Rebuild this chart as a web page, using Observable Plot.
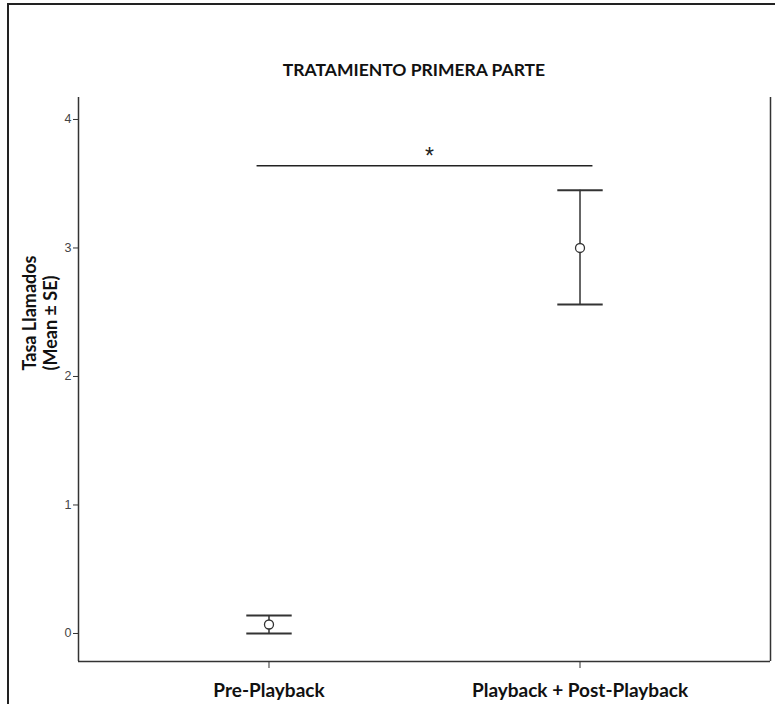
<!DOCTYPE html>
<html>
<head>
<meta charset="utf-8">
<script src="https://cdn.jsdelivr.net/npm/d3@7"></script>
<script src="https://cdn.jsdelivr.net/npm/@observablehq/plot@0.6"></script>
<style>
  html, body { margin: 0; padding: 0; background: #fff; }
  #page { position: relative; width: 775px; height: 704px; overflow: hidden; }
  #border { position: absolute; left: 7px; top: 3px; width: 800px; height: 800px;
            border-left: 2px solid #222; border-top: 2px solid #222; }
  #title { position: absolute; left: 0; top: 59px; width: 828px; text-align: center;
           font-family: Lato, sans-serif; font-weight: bold; font-size: 17.5px; color: #111; }
  #chart { position: absolute; left: 0; top: 92px; }
</style>
</head>
<body>
<div id="page">
  <div id="border"></div>
  <div id="title">TRATAMIENTO PRIMERA PARTE</div>
  <div id="chart"></div>
</div>
<script>
// Data
const categories = ["Pre-Playback", "Playback + Post-Playback"];
const means = [0.07, 3.0];
const lower = [0.0, 2.56];
const upper = [0.14, 3.45];
const yTicks = [0, 1, 2, 3, 4];
const sigLevel = [3.64];
const sigFrom = [-0.04];
const sigTo = [1.04];
const sigLabel = ["*"];
const yLabel = "Tasa Llamados\n(Mean ± SE)";

const rows = categories.map((c, i) => ({i, c, mean: means[i], lo: lower[i], hi: upper[i]}));
const xDom = [-0.6125, 1.6125];
const yDom = [-0.218, 4.171];
const cap = 0.073;

const caps = rows.flatMap(r => [{i: r.i, v: r.lo}, {i: r.i, v: r.hi}]);

const plot = Plot.plot({
  width: 775,
  height: 612,
  marginLeft: 78,
  marginRight: 5,
  marginTop: 5,
  marginBottom: 43,
  style: {fontFamily: "Lato, sans-serif", background: "transparent"},
  x: {domain: xDom, axis: null},
  y: {domain: yDom, axis: null},
  marks: [
    // frame lines (left, bottom, right)
    Plot.ruleX([xDom[0], xDom[1]], {y1: yDom[0], y2: yDom[1], stroke: "#333", strokeWidth: 1.5}),
    Plot.ruleY([yDom[0]], {x1: xDom[0], x2: xDom[1], stroke: "#333", strokeWidth: 1.5}),
    // y axis ticks & labels
    Plot.axisY({ticks: yTicks, tickSize: 5, tickFormat: d3.format("d"), tickPadding: 2,
      fontFamily: "Liberation Sans, Arial, sans-serif", fontSize: 12.5, color: "#444", stroke: "#333", label: null}),
    // x axis ticks & labels
    Plot.axisX({ticks: categories.map((_, i) => i), tickSize: 7, tickFormat: i => categories[i],
      tickPadding: 15, fontSize: 19, fontWeight: "bold", color: "#111", stroke: "#333", label: null}),
    // error bars
    Plot.ruleX(rows, {x: "i", y1: "lo", y2: "hi", stroke: "#333", strokeWidth: 1.5}),
    Plot.link(caps, {x1: d => d.i - cap, x2: d => d.i + cap, y1: "v", y2: "v", stroke: "#333", strokeWidth: 2}),
    Plot.dot(rows, {x: "i", y: "mean", r: 4.5, stroke: "#333", strokeWidth: 1.3, fill: "white"}),
    // significance bracket
    Plot.link(sigLevel, {x1: () => sigFrom[0], x2: () => sigTo[0], y1: d => d, y2: d => d, stroke: "#222", strokeWidth: 1.5}),
    Plot.text(sigLabel, {x: () => (sigFrom[0] + sigTo[0]) / 2, y: () => sigLevel[0], text: d => d,
      dy: -9, dx: 5, fontSize: 23, fontFamily: "Liberation Sans, Arial, sans-serif", fill: "#222"}),
    // y label
    Plot.text([yLabel], {frameAnchor: "left", rotate: -90, dx: -39, dy: -9, text: d => d,
      fontSize: 18, fontWeight: "bold", fill: "#111", lineHeight: 1.2})
  ]
});
document.getElementById("chart").appendChild(plot);
</script>
</body>
</html>
